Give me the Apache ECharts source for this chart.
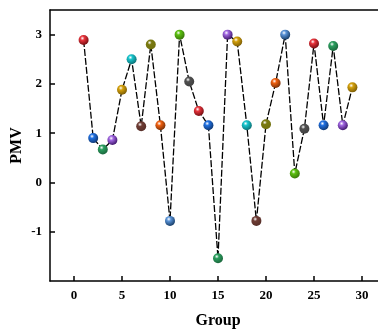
<!DOCTYPE html>
<html>
<head>
<meta charset="utf-8">
<script src="https://cdn.jsdelivr.net/npm/echarts@6/dist/echarts.min.js"></script>
<style>
  html, body { margin: 0; padding: 0; background: #fff; }
  #main { width: 378px; height: 331px; }
</style>
</head>
<body>
<div id="main"></div>
<script>
// PMV per group
var groups = [1, 2, 3, 4, 5, 6, 7, 8, 9, 10, 11, 12, 13, 14, 15, 16, 17, 18, 19, 20, 21, 22, 23, 24, 25, 26, 27, 28, 29];
var pmv = [2.89, 0.90, 0.67, 0.86, 1.88, 2.50, 1.14, 2.80, 1.16, -0.78, 3.00, 2.05, 1.45, 1.16, -1.54, 3.00, 2.86, 1.16, -0.78, 1.18, 2.02, 3.00, 0.18, 1.09, 2.82, 1.16, 2.77, 1.16, 1.93];
var palette = ['#e8343c', '#1f6fe0', '#2a9e5e', '#a066e0', '#d4a00a', '#18c4cc', '#6e3c34', '#7a7a10', '#f06010', '#5a94d8', '#5cc010', '#505050'];
var xTicks = [0, 5, 10, 15, 20, 25, 30];
var yTicks = [-1, 0, 1, 2, 3];

var chart = echarts.init(document.getElementById('main'));
var font = '"Liberation Serif", "Times New Roman", serif';

function ball(c) {
  return new echarts.graphic.RadialGradient(0.38, 0.32, 0.7, [
    { offset: 0, color: '#ffffff' },
    { offset: 0.3, color: c },
    { offset: 1, color: echarts.color.modifyHSL(c, null, null, 0.25) }
  ]);
}

var points = groups.map(function (g, i) {
  return {
    value: [g, pmv[i]],
    itemStyle: { color: ball(palette[i % palette.length]) }
  };
});

chart.setOption({
  animation: false,
  grid: { left: 50, top: 10, bottom: 50, right: -8, outerBoundsMode: 'none', containLabel: false },
  xAxis: [{
    type: 'value',
    min: -2.5,
    max: 32.5,
    name: 'Group',
    nameLocation: 'middle',
    nameGap: 32,
    nameMoveOverlap: false,
    nameTextStyle: { fontFamily: font, fontWeight: 'bold', fontSize: 16, color: '#000' },
    axisLine: { onZero: false, lineStyle: { color: '#000', width: 1.5 } },
    axisTick: { inside: true, length: 5, customValues: xTicks, lineStyle: { color: '#000', width: 1.5 } },
    axisLabel: { customValues: xTicks, fontFamily: font, fontWeight: 'bold', fontSize: 13, color: '#000', margin: 8 },
    splitLine: { show: false }
  }, {
    type: 'value',
    position: 'top',
    min: -2.5,
    max: 32.5,
    axisLine: { show: true, onZero: false, lineStyle: { color: '#000', width: 1.5 } },
    axisTick: { show: false },
    axisLabel: { show: false },
    splitLine: { show: false }
  }],
  yAxis: {
    type: 'value',
    min: -2,
    max: 3.5,
    name: 'PMV',
    nameLocation: 'middle',
    nameGap: 25,
    nameMoveOverlap: false,
    nameTextStyle: { fontFamily: font, fontWeight: 'bold', fontSize: 16, color: '#000' },
    axisLine: { show: true, onZero: false, lineStyle: { color: '#000', width: 1.5 } },
    axisTick: { inside: true, length: 5, customValues: yTicks, lineStyle: { color: '#000', width: 1.5 } },
    axisLabel: { customValues: yTicks, fontFamily: font, fontWeight: 'bold', fontSize: 13, color: '#000', margin: 8 },
    splitLine: { show: false }
  },
  series: [{
    type: 'line',
    data: points,
    symbol: 'circle',
    symbolSize: 10,
    lineStyle: { color: '#000', width: 1.3, type: [7, 2] },
    z: 2
  }]
});
</script>
</body>
</html>
